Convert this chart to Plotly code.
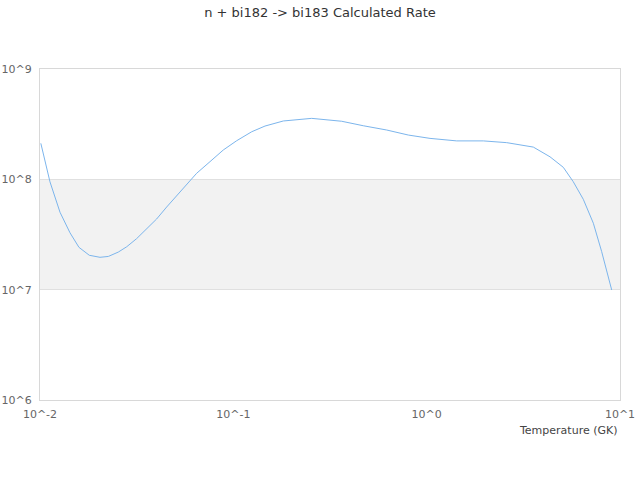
import plotly.graph_objects as go

# temperature (GK) and calculated rate
temperature = [0.0101, 0.01126, 0.01269, 0.01429, 0.0159, 0.01799, 0.02043, 0.02256,
               0.0254, 0.0281, 0.0316, 0.0356, 0.0401, 0.0452, 0.0509, 0.0574,
               0.0646, 0.0757, 0.0887, 0.1041, 0.1245, 0.1458, 0.1814, 0.2543,
               0.3635, 0.470, 0.621, 0.804, 1.041, 1.43, 1.963, 2.594,
               3.562, 4.345, 5.09, 5.73, 6.46, 7.28, 8.04, 9.06]
rate = [2.12e8, 9.5e7, 5.03e7, 3.28e7, 2.42e7, 2.05e7, 1.965e7, 2.0e7,
        2.19e7, 2.45e7, 2.90e7, 3.55e7, 4.37e7, 5.61e7, 7.06e7, 8.88e7,
        1.134e8, 1.445e8, 1.844e8, 2.24e8, 2.70e8, 3.04e8, 3.38e8, 3.57e8,
        3.36e8, 3.06e8, 2.80e8, 2.52e8, 2.35e8, 2.23e8, 2.23e8, 2.15e8,
        1.96e8, 1.60e8, 1.285e8, 9.52e7, 6.59e7, 4.0e7, 2.21e7, 9.93e6]

x_ticks = [0.01, 0.1, 1, 10]
x_labels = ["10^-2", "10^-1", "10^0", "10^1"]
y_ticks = [1e6, 1e7, 1e8, 1e9]
y_labels = ["10^6", "10^7", "10^8", "10^9"]
band = [1e7, 1e8]

fig = go.Figure()
fig.add_trace(go.Scatter(x=temperature, y=rate, mode="lines",
                         line=dict(color="#7cb5ec", width=1),
                         name="n + bi182 -> bi183", showlegend=False))

fig.add_shape(type="rect", xref="paper", yref="y", x0=0, x1=1,
              y0=band[0], y1=band[1], fillcolor="#f2f2f2", line_width=0,
              layer="below")

fig.update_layout(
    width=640, height=480,
    margin=dict(l=40, r=20, t=69, b=80),
    paper_bgcolor="white", plot_bgcolor="white",
    font=dict(family="DejaVu Sans", size=11, color="#666666"),
    title=dict(text="n + bi182 -> bi183 Calculated Rate", x=0.5, xanchor="center",
               yref="container", y=0.975, yanchor="middle",
               font=dict(size=13, color="#333333")),
    xaxis=dict(type="log", range=[-2, 1], tickvals=x_ticks, ticktext=x_labels,
               showgrid=False, zeroline=False, showline=True, linecolor="#d8d8d8",
               mirror=True, ticks="", ticklabelstandoff=4, automargin=False),
    yaxis=dict(type="log", range=[6, 9], tickvals=y_ticks, ticktext=y_labels,
               showgrid=True, gridcolor="#e0e0e0", zeroline=False, showline=True,
               linecolor="#d8d8d8", mirror=True, ticks="", ticklabelstandoff=5,
               automargin=False),
    annotations=[dict(text="Temperature (GK)", xref="paper", yref="paper",
                      x=1, y=-0.066, xanchor="right", yanchor="top", showarrow=False,
                      font=dict(size=11, color="#444444"))],
)

# drop the default body margin so the chart sits at the page corner
fig.write_html("out.html", config={"displayModeBar": False},
               post_script="document.body.style.margin='0';")
